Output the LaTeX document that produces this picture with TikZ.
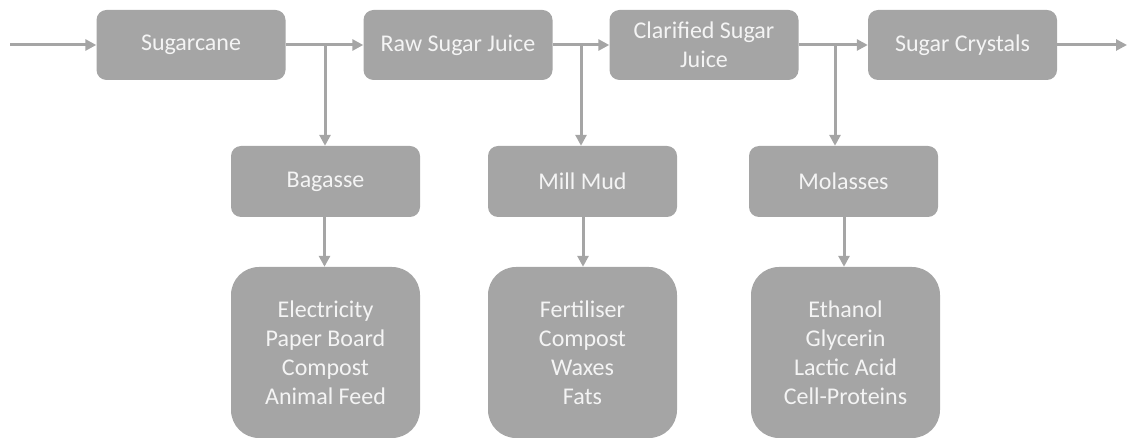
\documentclass[tikz,border=0pt]{standalone}
\usepackage{fontspec}
\setmainfont{Carlito}
\usetikzlibrary{arrows.meta}
\definecolor{boxgray}{HTML}{A5A5A5}
\definecolor{txt}{HTML}{F4F4F4}
\tikzset{
  topbox/.style={fill=boxgray, rounded corners=10pt, minimum width=189pt, minimum height=70pt, inner sep=0pt, text=txt, align=center, font=\fontsize{24}{29}\selectfont},
  listbox/.style={fill=boxgray, rounded corners=28pt, minimum width=189pt, minimum height=171pt, inner sep=0pt, text=txt, align=center, font=\fontsize{24}{29}\selectfont},
  arr/.style={draw=boxgray, line width=3pt, -{Triangle[length=11pt,width=11pt]}},
  ln/.style={draw=boxgray, line width=3pt}
}
\begin{document}
\begin{tikzpicture}[x=1pt,y=1pt]
\useasboundingbox (0,0) rectangle (1127,439);
% top row
\node[topbox] (cane) at (191,394) {Sugarcane};
\node[topbox] (raw) at (458,394) {Raw Sugar Juice};
\node[topbox] (clar) at (704,394) {Clarified Sugar\\Juice};
\node[topbox] (cryst) at (962.5,394) {Sugar Crystals};
% middle row
\node[topbox, minimum height=71pt] (bag) at (325.5,257.5) {Bagasse};
\node[topbox, minimum height=71pt] (mud) at (582.5,257.5) {Mill Mud};
\node[topbox, minimum height=71pt] (mol) at (843.5,257.5) {Molasses};
% bottom row
\node[listbox] (bagl) at (325.5,86.5) {Electricity\\Paper Board\\Compost\\Animal Feed};
\node[listbox] (mudl) at (582.5,86.5) {Fertiliser\\Compost\\Waxes\\Fats};
\node[listbox] (moll) at (845.5,86.5) {Ethanol\\Glycerin\\Lactic Acid\\Cell-Proteins};
% connectors
\coordinate (in) at (10,394);
\coordinate (out) at (1127,394);
\coordinate (b1) at (325,394);
\coordinate (b2) at (581,394);
\coordinate (b3) at (835,394);
\draw[arr] (in) -- (cane);
\draw[arr] (cane) -- (raw);
\draw[arr] (raw) -- (clar);
\draw[arr] (clar) -- (cryst);
\draw[arr] (cryst) -- (out);
\draw[arr] (b1) -- (bag.north -| b1);
\draw[arr] (b2) -- (mud.north -| b2);
\draw[arr] (b3) -- (mol.north -| b3);
\coordinate (d1) at (324.5,0);
\coordinate (d2) at (583,0);
\coordinate (d3) at (844,0);
\draw[arr] (bag.south -| d1) -- (bagl.north -| d1);
\draw[arr] (mud.south -| d2) -- (mudl.north -| d2);
\draw[arr] (mol.south -| d3) -- (moll.north -| d3);
\end{tikzpicture}
\end{document}
